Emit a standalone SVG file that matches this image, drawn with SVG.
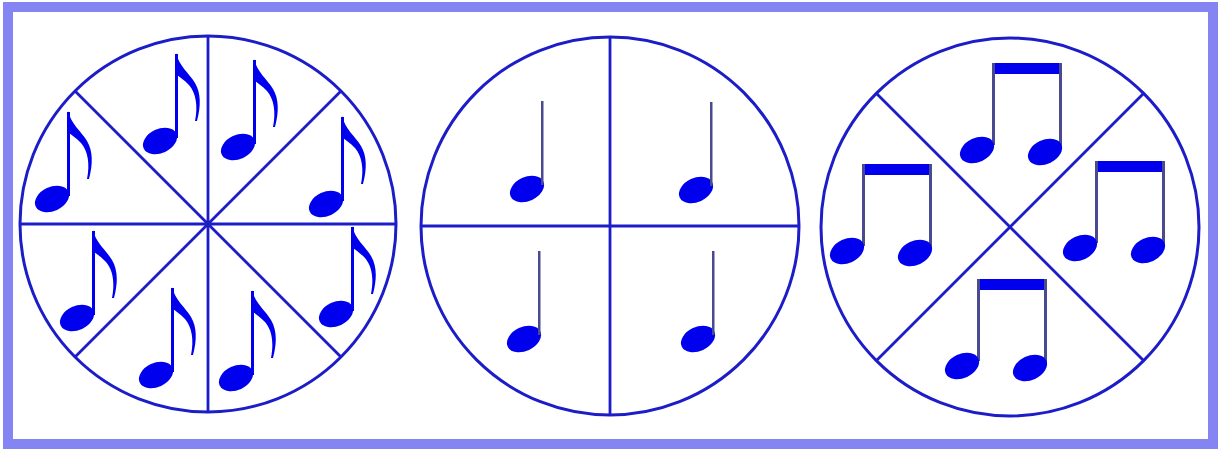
<svg xmlns="http://www.w3.org/2000/svg" xmlns:xlink="http://www.w3.org/1999/xlink" width="1222" height="449" viewBox="0 0 1222 449">
<style>
.frame{fill:#ffffff;stroke:#8484f2;stroke-width:10}
.wheel{fill:none;stroke:#1c1cc8;stroke-width:3}
.div{stroke:#1c1cc8;stroke-width:2.8;fill:none}
.head{fill:#0000ee}
.stemB{fill:#0000ee}
.stemG{fill:#4a4a90}
</style>
<defs>
  <g id="eighth">
    <ellipse class="head" cx="0" cy="0" rx="18" ry="12" transform="rotate(-25)"/>
    <rect class="stemB" x="15" y="-87" width="3" height="84"/>
    <path class="head" d="M16,-88 C19,-75 29,-68 35,-58 C41,-48 41,-35 37,-20 L35,-20 C38,-35 36,-48 29,-56 C24,-61 20,-64 17,-66 Z"/>
  </g>
  <g id="quarter">
    <ellipse class="head" cx="0" cy="0" rx="18" ry="12" transform="rotate(-25)"/>
    <rect class="stemG" x="14" y="-88" width="2.5" height="84"/>
  </g>
  <g id="pair">
    <rect class="head" x="0" y="0" width="70" height="11"/>
    <rect class="stemG" x="0" y="0" width="3" height="82"/>
    <rect class="stemG" x="67" y="0" width="3" height="84"/>
    <ellipse class="head" cx="-15" cy="87" rx="18" ry="12" transform="rotate(-25 -15 87)"/>
    <ellipse class="head" cx="53" cy="89" rx="18" ry="12" transform="rotate(-25 53 89)"/>
  </g>
</defs>
<rect class="frame" x="8" y="7" width="1205" height="437"/>
<g id="connectors">
  <line class="div" x1="20" y1="224" x2="396" y2="224"/>
  <line class="div" x1="208" y1="36" x2="208" y2="412"/>
  <line class="div" x1="75" y1="91" x2="341" y2="357"/>
  <line class="div" x1="341" y1="91" x2="75" y2="357"/>
  <line class="div" x1="421" y1="226" x2="799" y2="226"/>
  <line class="div" x1="610" y1="37" x2="610" y2="415"/>
  <line class="div" x1="877" y1="94" x2="1143" y2="360"/>
  <line class="div" x1="1143" y1="94" x2="877" y2="360"/>
</g>
<g id="wheel-eighths">
  <circle class="wheel" cx="208" cy="224" r="188"/>
  <use xlink:href="#eighth" x="52" y="199"/>
  <use xlink:href="#eighth" x="160" y="141"/>
  <use xlink:href="#eighth" x="238" y="147"/>
  <use xlink:href="#eighth" x="326" y="204"/>
  <use xlink:href="#eighth" x="336" y="314"/>
  <use xlink:href="#eighth" x="236" y="378"/>
  <use xlink:href="#eighth" x="156" y="375"/>
  <use xlink:href="#eighth" x="77" y="318"/>
</g>
<g id="wheel-quarters">
  <circle class="wheel" cx="610" cy="226" r="189"/>
  <use xlink:href="#quarter" x="527" y="189"/>
  <use xlink:href="#quarter" x="696" y="190"/>
  <use xlink:href="#quarter" x="524" y="339"/>
  <use xlink:href="#quarter" x="698" y="339"/>
</g>
<g id="wheel-pairs">
  <circle class="wheel" cx="1010" cy="227" r="189"/>
  <use xlink:href="#pair" x="992" y="63"/>
  <use xlink:href="#pair" x="862" y="164"/>
  <use xlink:href="#pair" x="1095" y="161"/>
  <use xlink:href="#pair" x="977" y="279"/>
</g>
</svg>
